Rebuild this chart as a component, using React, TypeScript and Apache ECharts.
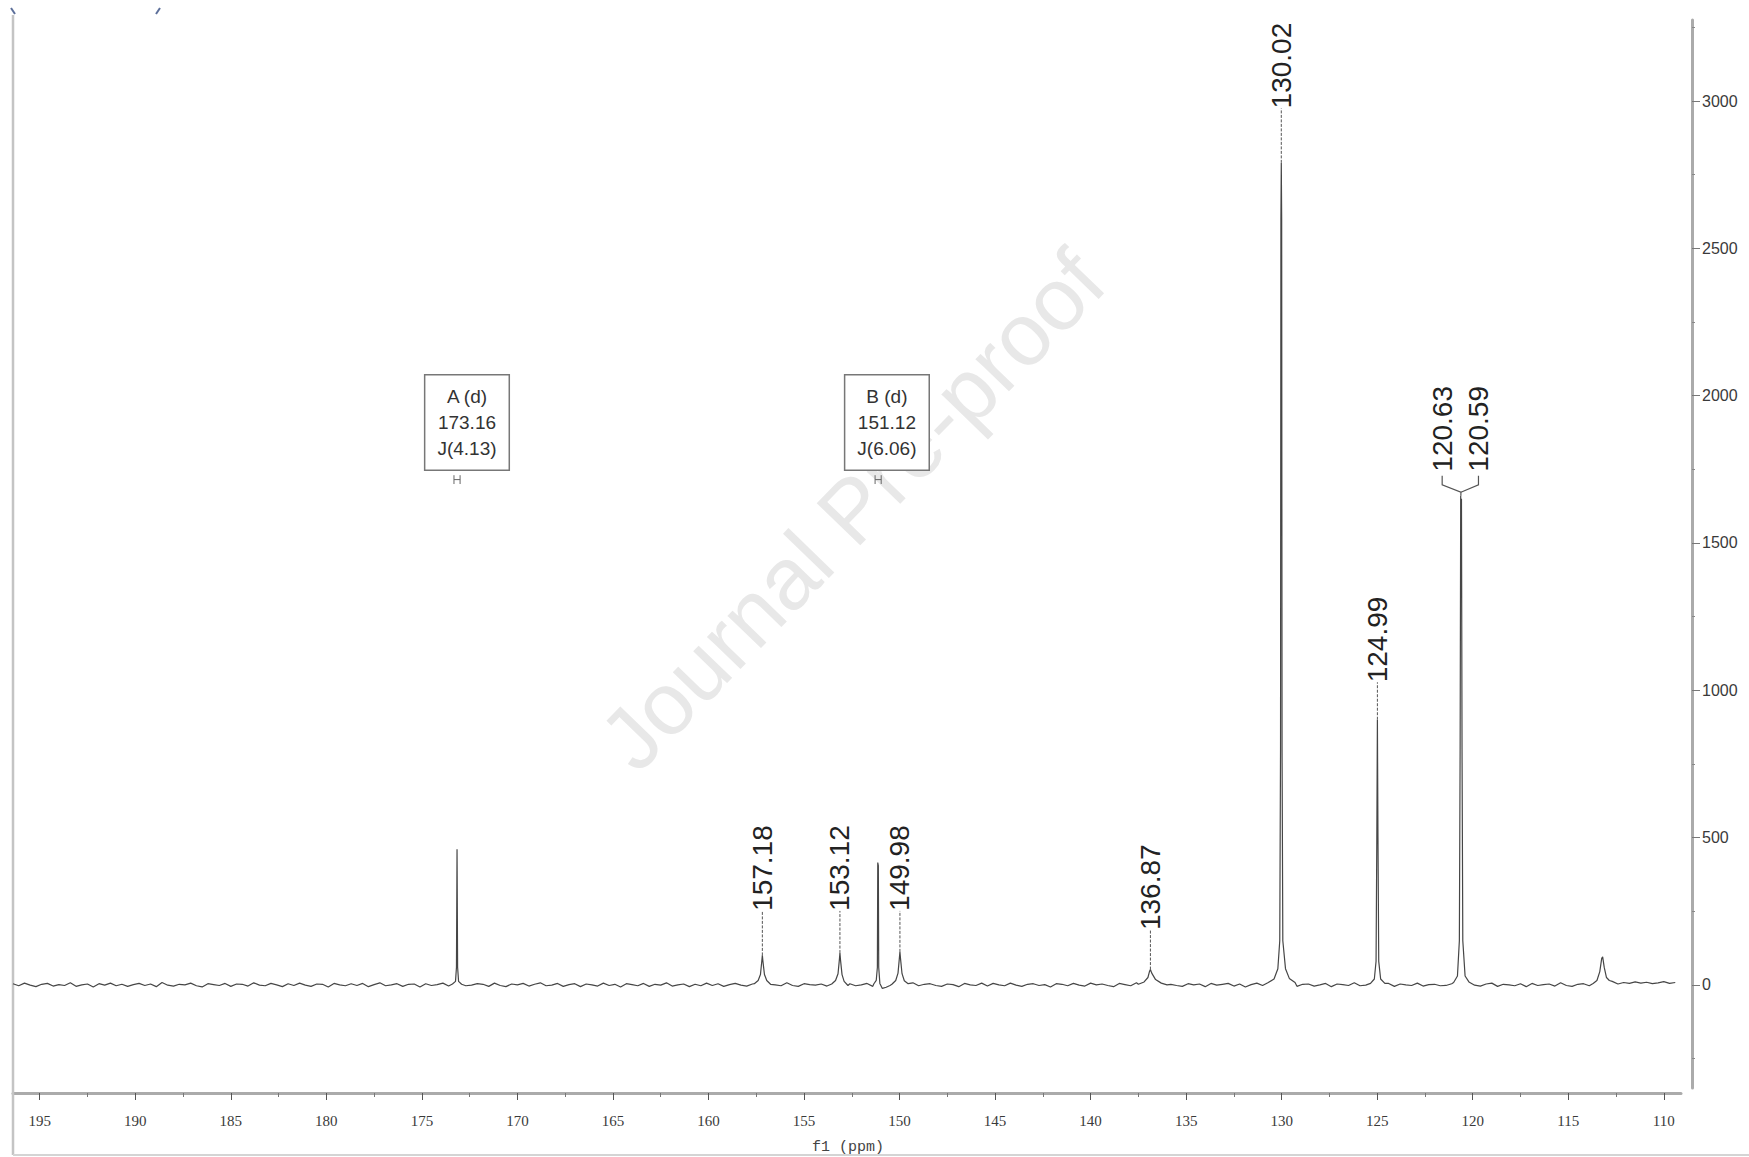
import React, { useEffect, useRef } from 'react';
import * as echarts from 'echarts';

// ---- axis ticks ----
const xTickValues = [110, 115, 120, 125, 130, 135, 140, 145, 150, 155, 160, 165, 170, 175, 180, 185, 190, 195];
const xMinorTickValues = [112.5, 117.5, 122.5, 127.5, 132.5, 137.5, 142.5, 147.5, 152.5, 157.5, 162.5, 167.5, 172.5, 177.5, 182.5, 187.5, 192.5];
const yTickValues = [0, 500, 1000, 1500, 2000, 2500, 3000];
const yMinorTickValues = [-250, 250, 750, 1250, 1750, 2250, 2750, 3250];

// ---- baseline noise, read every 0.3 ppm starting at 196.4 ppm ----
const noiseStartPpm = 196.4;
const noiseStepPpm = 0.3;
const baselineNoise = [
  4, -3, 6, -1, -6, 2, 5, -4, 1, -2,
  7, -5, 0, 3, -7, 4, -1, 6, -3, 2,
  -5, 1, 5, -2, 3, -6, 8, -1, -4, 2,
  0, 6, -3, -7, 4, 1, -2, 5, -5, 3,
  2, -4, 7, -1, -3, 5, 0, -6, 4, -2,
  6, -1, -5, 3, 2, -7, 5, 0, -3, 4,
  -2, 5, -6, 1, 7, -3, 0, 4, -5, 2,
  3, -7, 4, -2, 1, 6, -4, -1, 5, -3,
  -1, 4, 2, -5, 6, -2, -6, 3, 0, 5,
  -4, 2, 7, -3, -1, 5, -5, 1, 4, -6,
  3, 0, -4, 6, -2, 2, -7, 4, 1, -3,
  5, -5, 2, -1, 7, -4, 0, 3, -6, 2,
  -3, 6, -2, 4, -5, 1, 5, -1, -4, 3,
  2, -6, 5, 0, -3, 7, -2, -5, 4, 1,
  -1, 3, -4, 6, -6, 2, 4, -3, 0, 5,
  -5, 1, 6, -2, 3, -4, -1, 7, -3, 2,
  4, -2, -5, 3, 1, -6, 5, 0, -2, 6,
  -4, 5, 0, -3, 6, -1, -5, 2, 4, -2,
  1, -7, 4, 2, -3, 5, -1, -4, 6, 0,
  3, -2, -6, 5, 1, -3, 7, -5, 2, -1,
  6, -4, 2, -2, -5, 4, 0, 3, -6, 5,
  -1, 2, 5, -4, 3, -7, 1, 6, -2, -3,
  4, -1, -3, 6, -5, 2, 3, -4, 0, 5,
  -6, 3, 1, -2, 7, -3, -1, 4, -5, 2,
  5, -5, 3, 0, -2, 6, -4, 1, 2, -3,
  -2, 4, -6, 5, 1, -1, -4, 3, 6, -5,
  2, 0, -3, 4, -6, 5, -2, 1, 3, -4,
  7, -2, -5, 2, 4, -3, 0, 6, -1, -4,
  3, 8, 5, 10, 6, 9, 4, 7, 11, 5,
  8,
];

// ---- peaks: [ppm, intensity] ----
const peak173 = [[173.4, 3], [173.24, 12], [173.19, 60], [173.16, 460], [173.13, 60], [173.08, 12], [172.92, 2]];
const peak157 = [[157.6, 4], [157.4, 15], [157.28, 35], [157.21, 80], [157.18, 100], [157.15, 80], [157.07, 35], [156.95, 15], [156.75, 2]];
const peak153 = [[153.55, 3], [153.35, 15], [153.22, 38], [153.15, 85], [153.12, 108], [153.09, 85], [153.01, 35], [152.9, 12], [152.7, -2]];
const peak151 = [[151.35, 3], [151.22, 15], [151.16, 60], [151.14, 415], [151.11, 405], [151.09, 60], [151.03, 5], [150.9, -12], [150.7, -8]];
const peak150 = [[150.4, 2], [150.2, 15], [150.08, 40], [150.01, 90], [149.98, 112], [149.95, 90], [149.87, 38], [149.75, 14], [149.55, 4]];
const peak137 = [[137.5, 2], [137.2, 10], [137.0, 25], [136.92, 45], [136.87, 52], [136.8, 40], [136.6, 18], [136.3, 6], [136.0, 0]];
const peak130 = [[130.7, 8], [130.4, 20], [130.2, 55], [130.1, 150], [130.06, 800], [130.04, 2600], [130.02, 2790], [130.0, 2600], [129.98, 800], [129.94, 150], [129.8, 55], [129.6, 22], [129.3, 8]];
const peak125 = [[125.35, 5], [125.15, 20], [125.06, 80], [125.02, 500], [124.99, 900], [124.96, 500], [124.92, 80], [124.82, 20], [124.6, 5]];
const peak121 = [[121.0, 8], [120.8, 30], [120.7, 150], [120.66, 800], [120.63, 1660], [120.61, 1500], [120.59, 1650], [120.56, 800], [120.52, 150], [120.4, 30], [120.2, 10]];
const peak113 = [[113.7, 5], [113.5, 15], [113.35, 45], [113.25, 90], [113.2, 95], [113.12, 60], [113.0, 25], [112.85, 15], [112.7, 12]];
const peaks = [peak173, peak157, peak153, peak151, peak150, peak137, peak130, peak125, peak121, peak113];

// ---- peak labels ----
const peakLabelTexts = ['157.18', '153.12', '149.98', '136.87', '130.02', '124.99', '120.63', '120.59'];
const peakLabelPpm = [157.18, 153.12, 149.98, 136.87, 130.02, 124.99, 121.6, 119.7];
const peakLabelBase = [251, 251, 251, 186, 2975, 1027, 1742, 1742];

// connectors: ppm, from (apex), to (label base)
const connectorPpm = [157.18, 153.12, 149.98, 136.87, 130.02, 124.99];
const connectorFrom = [100, 108, 112, 52, 2790, 900];
const connectorTo = [251, 251, 251, 186, 2975, 1027];
const forkLeft = [[120.62, 1660], [120.62, 1672], [121.6, 1697], [121.6, 1728]];
const forkRight = [[120.62, 1672], [119.7, 1697], [119.7, 1728]];

// ---- multiplet boxes ----
const multipletNames = ['A (d)', 'B (d)'];
const multipletShifts = ['173.16', '151.12'];
const multipletJ = ['J(4.13)', 'J(6.06)'];
const multipletPpm = [173.16, 151.12];
const multipletBoxPpm = [172.64, 150.66];
const multipletBoxBottom = 1749;
const multipletMarkLevel = 1715;

function buildSpectrum() {
  const ranges = peaks.map((p) => {
    const xs = p.map((q) => q[0]);
    return [Math.min(...xs), Math.max(...xs)];
  });
  const noisePts = baselineNoise
    .map((v, i) => [Number((noiseStartPpm - i * noiseStepPpm).toFixed(2)), v])
    .filter(([x]) => !ranges.some(([a, b]) => x >= a && x <= b));
  const all = [...noisePts, ...peaks.flat()];
  all.sort((a, b) => b[0] - a[0]);
  return all;
}

export default function App() {
  const ref = useRef<HTMLDivElement>(null);
  useEffect(() => {
    if (!ref.current) return;
    const chart = echarts.init(ref.current, null, { renderer: 'svg' });
    const spectrum = buildSpectrum();
    const axisGray = '#ababab';
    const option: any = {
      animation: false,
      backgroundColor: '#ffffff',
      grid: { left: 13, right: 68, top: 20, bottom: 69, outerBoundsMode: 'none' },
      xAxis: [
        {
          type: 'value', inverse: true, min: 109.1, max: 196.4, position: 'bottom', offset: 5,
          axisLine: { show: true, onZero: false, lineStyle: { color: axisGray, width: 3 } },
          axisTick: { show: true, customValues: xTickValues, length: 7, lineStyle: { color: '#555', width: 1 } },
          axisLabel: { show: true, customValues: xTickValues, margin: 20, fontFamily: 'Liberation Serif', fontSize: 15, color: '#3a3a3a' },
          splitLine: { show: false },
        },
        {
          type: 'value', inverse: true, min: 109.1, max: 196.4, position: 'bottom', offset: 5,
          axisLine: { show: false, onZero: false },
          axisTick: { show: true, customValues: xMinorTickValues, length: 4, lineStyle: { color: '#777', width: 1 } },
          axisLabel: { show: false },
          splitLine: { show: false },
        },
      ],
      yAxis: [
        {
          type: 'value', min: -350, max: 3275, position: 'right', offset: 11,
          axisLine: { show: true, onZero: false, lineStyle: { color: axisGray, width: 3 } },
          axisTick: { show: true, customValues: yTickValues, length: 8, lineStyle: { color: '#777', width: 1 } },
          axisLabel: {
            show: true, customValues: yTickValues, margin: 10, fontFamily: 'Liberation Sans', fontSize: 16, color: '#3a3a3a',
            formatter: (v: number) => String(v),
          },
          splitLine: { show: false },
        },
        {
          type: 'value', min: -350, max: 3275, position: 'right', offset: 11,
          axisLine: { show: false, onZero: false },
          axisTick: { show: true, customValues: yMinorTickValues, length: 3, lineStyle: { color: '#888', width: 1 } },
          axisLabel: { show: false },
          splitLine: { show: false },
        },
      ],
      series: [
        {
          type: 'line', xAxisIndex: 0, yAxisIndex: 0, data: spectrum, showSymbol: false, symbol: 'none',
          lineStyle: { color: '#464646', width: 1.2 }, z: 3, silent: true,
        },
        {
          type: 'custom', xAxisIndex: 0, yAxisIndex: 0, silent: true, z: 4,
          data: connectorPpm.map((p, i) => [p, connectorFrom[i], connectorTo[i]]),
          renderItem: (params: any, api: any) => {
            const a = api.coord([api.value(0), api.value(1)]);
            const b = api.coord([api.value(0), api.value(2)]);
            return {
              type: 'line',
              shape: { x1: a[0], y1: a[1], x2: b[0], y2: b[1] },
              style: { stroke: '#555', lineWidth: 1, lineDash: [3, 1.5] },
            };
          },
        },
        {
          type: 'custom', xAxisIndex: 0, yAxisIndex: 0, silent: true, z: 4,
          data: [[120.62, 1660]],
          renderItem: (params: any, api: any) => ({
            type: 'group',
            children: [forkLeft, forkRight].map((pts) => ({
              type: 'polyline',
              shape: { points: pts.map((q) => api.coord(q)) },
              style: { stroke: '#555', lineWidth: 1.2, fill: null },
            })),
          }),
        },
        {
          type: 'custom', xAxisIndex: 0, yAxisIndex: 0, silent: true, z: 5,
          data: peakLabelTexts.map((t, i) => [peakLabelPpm[i], peakLabelBase[i]]),
          renderItem: (params: any, api: any) => {
            const p = api.coord([api.value(0), api.value(1)]);
            return {
              type: 'text', x: p[0], y: p[1], rotation: Math.PI / 2,
              style: {
                text: peakLabelTexts[params.dataIndex],
                font: '28px "Liberation Sans", Arial, sans-serif',
                fill: '#222', align: 'left', verticalAlign: 'middle',
              },
            };
          },
        },
        {
          type: 'custom', xAxisIndex: 0, yAxisIndex: 0, silent: true, z: 5,
          data: multipletNames.map((n, i) => [multipletBoxPpm[i], multipletBoxBottom, multipletPpm[i], multipletMarkLevel]),
          renderItem: (params: any, api: any) => {
            const i = params.dataIndex;
            const p = api.coord([api.value(0), api.value(1)]);
            const ppm = api.value(2);
            const lv = api.value(3);
            const l = api.coord([ppm + 0.16, lv]);
            const r = api.coord([ppm - 0.16, lv]);
            const t = api.coord([ppm, lv + 15])[1];
            const b = api.coord([ppm, lv - 15])[1];
            return {
              type: 'group',
              children: [
                {
                  type: 'text', x: p[0], y: p[1],
                  style: {
                    text: multipletNames[i] + '\n' + multipletShifts[i] + '\n' + multipletJ[i],
                    font: '19px "Liberation Sans", Arial, sans-serif',
                    fill: '#333', align: 'center', verticalAlign: 'bottom', lineHeight: 26,
                    padding: [8, 12, 8, 12], borderColor: '#777', borderWidth: 1.5, backgroundColor: '#fff',
                  },
                },
                { type: 'line', shape: { x1: l[0], y1: l[1], x2: r[0], y2: r[1] }, style: { stroke: '#666', lineWidth: 1 } },
                { type: 'line', shape: { x1: l[0], y1: t, x2: l[0], y2: b }, style: { stroke: '#666', lineWidth: 1 } },
                { type: 'line', shape: { x1: r[0], y1: t, x2: r[0], y2: b }, style: { stroke: '#666', lineWidth: 1 } },
              ],
            };
          },
        },
      ],
      graphic: [
        {
          type: 'text', x: 852, y: 510, rotation: (46 * Math.PI) / 180, z: 1, silent: true,
          style: {
            text: 'Journal Pre-proof', font: '88px "Liberation Sans", Arial, sans-serif',
            fill: '#e8e8e8', align: 'center', verticalAlign: 'middle',
          },
        },
        { type: 'line', z: 1, shape: { x1: 13, y1: 15, x2: 13, y2: 1155 }, style: { stroke: '#c4c4c4', lineWidth: 2.5 } },
        { type: 'line', z: 1, shape: { x1: 13, y1: 1155, x2: 1749, y2: 1155 }, style: { stroke: '#d4d4d4', lineWidth: 2 } },
        { type: 'line', z: 1, shape: { x1: 11, y1: 8, x2: 15, y2: 14 }, style: { stroke: '#5c6f9a', lineWidth: 2 } },
        { type: 'line', z: 1, shape: { x1: 160, y1: 8, x2: 156, y2: 14 }, style: { stroke: '#5c6f9a', lineWidth: 2 } },
        {
          type: 'text', x: 848, y: 1147, z: 5,
          style: { text: 'f1 (ppm)', font: '15px "Liberation Mono", monospace', fill: '#444', align: 'center', verticalAlign: 'middle' },
        },
      ],
    };
    chart.setOption(option);
    return () => chart.dispose();
  }, []);
  return <div ref={ref} style={{ position: 'fixed', left: 0, top: 0, width: 1749, height: 1157, background: '#fff' }} />;
}
